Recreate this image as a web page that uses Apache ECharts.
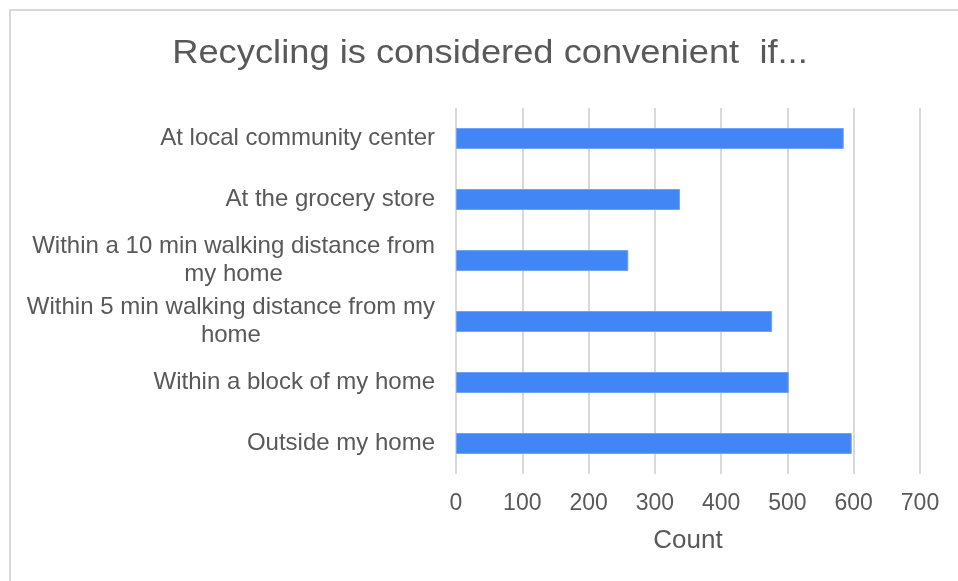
<!DOCTYPE html>
<html>
<head>
<meta charset="utf-8">
<script src="https://cdn.jsdelivr.net/npm/echarts@6/dist/echarts.min.js"></script>
<style>
  html, body { margin: 0; padding: 0; background: #ffffff; }
  #chart { width: 958px; height: 581px; }
</style>
</head>
<body>
<div id="chart"></div>
<script>
// Places where residents consider recycling convenient (bottom to top)
const categories = [
  'Outside my home',
  'Within a block of my home',
  'Within 5 min walking distance from my\nhome',
  'Within a 10 min walking distance from\nmy home',
  'At the grocery store',
  'At local community center'
];
const counts = [597, 502, 477, 260, 338, 585];
const countTicks = [0, 100, 200, 300, 400, 500, 600, 700];

const titleText = 'Recycling is considered convenient  if...';
const axisTitle = 'Count';

const FONT = '"Liberation Sans", Arial, sans-serif';
const TEXT_COLOR = '#595959';
const GRID_COLOR = '#d9d9d9';

const chart = echarts.init(document.getElementById('chart'), null, { renderer: 'canvas' });

chart.setOption({
  backgroundColor: '#ffffff',
  animation: false,
  textStyle: { fontFamily: FONT },
  graphic: [
    {
      // frame edge along the top and left
      type: 'polyline',
      silent: true,
      shape: { points: [[10, 581], [10, 10], [958, 10]] },
      style: { stroke: GRID_COLOR, lineWidth: 2, fill: null }
    },
    {
      type: 'text',
      x: 490,
      y: 54,
      scaleX: 1.1,
      silent: true,
      style: {
        text: titleText,
        fontFamily: FONT,
        fontSize: 33,
        fill: TEXT_COLOR,
        align: 'center',
        verticalAlign: 'middle'
      }
    }
  ],
  grid: { left: 456, right: 38, top: 108, bottom: 107 },
  xAxis: {
    type: 'value',
    min: countTicks[0],
    max: countTicks[countTicks.length - 1],
    interval: countTicks[1] - countTicks[0],
    name: axisTitle,
    nameLocation: 'middle',
    nameGap: 54,
    nameTextStyle: { fontFamily: FONT, fontSize: 26, color: TEXT_COLOR },
    axisLine: { show: false },
    axisTick: { show: false },
    axisLabel: { fontFamily: FONT, fontSize: 23, color: TEXT_COLOR, margin: 18 },
    splitLine: { show: true, lineStyle: { color: GRID_COLOR, width: 2 } }
  },
  yAxis: {
    type: 'category',
    data: categories,
    axisLine: { show: false },
    axisTick: { show: false },
    axisLabel: {
      margin: 21,
      formatter: function (v) {
        return v.split('\n').map(function (line) { return '{c|' + line + '}'; }).join('\n');
      },
      rich: {
        c: { fontFamily: FONT, fontSize: 24, color: TEXT_COLOR, align: 'center', lineHeight: 28 }
      }
    },
    splitLine: { show: false }
  },
  series: [
    {
      type: 'bar',
      data: counts,
      barWidth: 21,
      itemStyle: { color: '#4285f4', borderColor: '#6fa3f7', borderWidth: 1 }
    }
  ]
});
</script>
</body>
</html>
